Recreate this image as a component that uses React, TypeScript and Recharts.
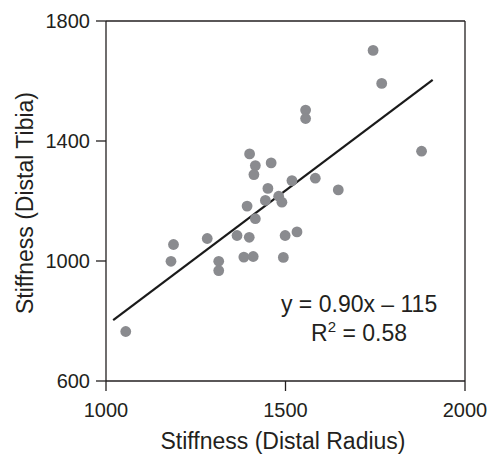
import { ScatterChart, Scatter, XAxis, YAxis, ReferenceLine, ReferenceDot } from 'recharts';

// stiffness values
const radiusStiffness = [
  1055, 1181, 1188, 1282, 1314, 1314, 1365, 1384, 1399, 1410, 1393,
  1416, 1400, 1416, 1412, 1460, 1451, 1444, 1481, 1490, 1518, 1494,
  1499, 1532, 1556, 1556, 1583, 1647, 1744, 1768, 1879,
];
const tibiaStiffness = [
  765, 999, 1055, 1075, 999, 968, 1085, 1013, 1079, 1015, 1183,
  1141, 1357, 1318, 1288, 1327, 1242, 1202, 1216, 1196, 1268, 1012,
  1085, 1097, 1503, 1475, 1276, 1237, 1702, 1592, 1366,
];

const xTicks = [1000, 1500, 2000];
const yTicks = [600, 1000, 1400, 1800];

const slope = 0.9;
const intercept = -115;
const fitRange = [1020, 1910];
const equationText = 'y = 0.90x \u2013 115';
const r2Value = '0.58';

const points = radiusStiffness.map((x, i) => ({ x, y: tibiaStiffness[i] }));

const FONT = '"Liberation Sans", Arial, Helvetica, sans-serif';
const INK = '#231f20';
const DOT = '#8a8b8f';

const Dot = (props: any) => <circle cx={props.cx} cy={props.cy} r={5.4} fill={DOT} />;

const XLabel = () => (
  <text x={283} y={448.5} textAnchor="middle" fontFamily={FONT} fontSize={23} fill={INK}>
    Stiffness (Distal Radius)
  </text>
);

const YLabel = () => (
  <text
    x={33}
    y={203}
    transform="rotate(-90, 33, 203)"
    textAnchor="middle"
    fontFamily={FONT}
    fontSize={23}
    fill={INK}
  >
    Stiffness (Distal Tibia)
  </text>
);

const EquationLabel = (props: any) => {
  const { x, y } = props.viewBox;
  return (
    <g fontFamily={FONT} fontSize={23} fill={INK}>
      <text x={x} y={y} textAnchor="middle">{equationText}</text>
      <text x={x} y={y + 28.5} textAnchor="middle">
        R<tspan fontSize={15} dy={-9}>2</tspan>
        <tspan dy={9}> = {r2Value}</tspan>
      </text>
    </g>
  );
};

export default function App() {
  const tickStyle = { fontSize: 20, fill: INK, fontFamily: FONT };
  return (
    <div style={{ position: 'absolute', top: 0, left: 0, width: 489, height: 454 }}>
      <ScatterChart width={489} height={454} margin={{ top: 21, right: 24, bottom: 0, left: 0 }}>
        <XAxis
          type="number"
          dataKey="x"
          domain={[1000, 2000]}
          ticks={xTicks}
          tickSize={10}
          tickMargin={12}
          height={73}
          stroke={INK}
          strokeWidth={1.3}
          tick={tickStyle}
          tickLine={{ stroke: INK, strokeWidth: 1.3 }}
          label={<XLabel />}
        />
        <YAxis
          type="number"
          dataKey="y"
          domain={[600, 1800]}
          ticks={yTicks}
          tickSize={10}
          tickMargin={6}
          width={106}
          stroke={INK}
          strokeWidth={1.3}
          tick={tickStyle}
          tickLine={{ stroke: INK, strokeWidth: 1.3 }}
          label={<YLabel />}
        />
        <ReferenceLine y={1800} stroke={INK} strokeWidth={1.3} />
        <ReferenceLine x={2000} stroke={INK} strokeWidth={1.3} />
        <Scatter data={points} shape={<Dot />} isAnimationActive={false} />
        <ReferenceLine
          segment={[
            { x: fitRange[0], y: slope * fitRange[0] + intercept },
            { x: fitRange[1], y: slope * fitRange[1] + intercept },
          ]}
          stroke="#1a1a1a"
          strokeWidth={2.2}
          ifOverflow="visible"
        />
        <ReferenceDot x={1705} y={830} r={0} fill="none" stroke="none" label={<EquationLabel />} />
      </ScatterChart>
    </div>
  );
}
